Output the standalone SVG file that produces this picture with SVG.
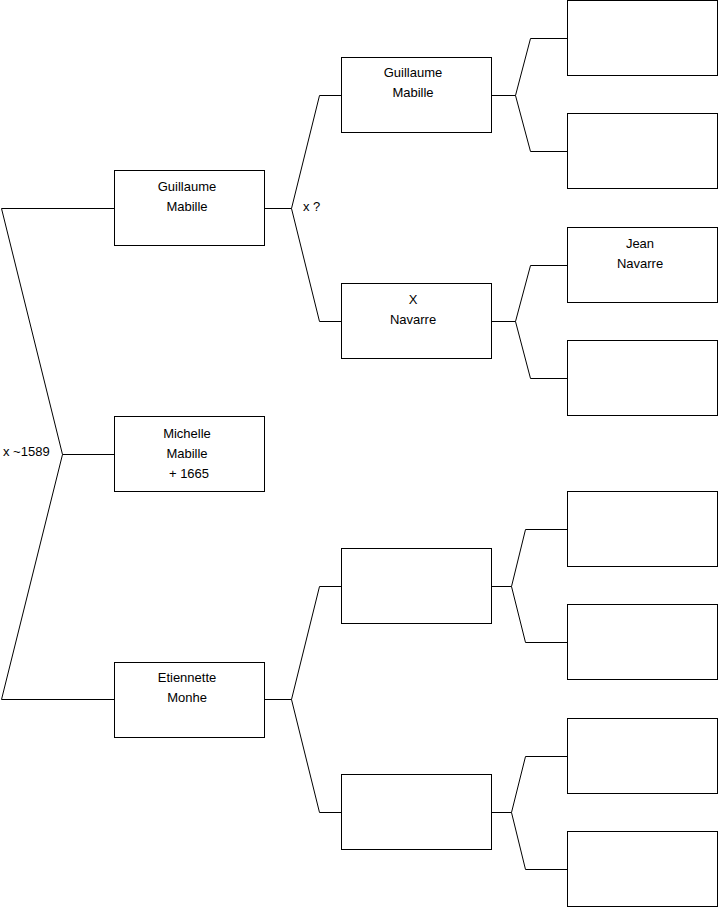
<svg xmlns="http://www.w3.org/2000/svg" width="719" height="908" viewBox="0 0 719 908">
<style>
.box{fill:#fff;stroke:#000;stroke-width:1}
.ln{fill:none;stroke:#000;stroke-width:1}
text{font-family:"Liberation Sans",Arial,sans-serif;font-size:13px;fill:#000}
.c{text-anchor:middle}
</style>
<rect width="719" height="908" fill="#fff"/>
<g id="connectors">
<polyline class="ln" points="114,208.5 1.5,208.5 62.5,454.5 1.5,699.5 114,699.5"/>
<line class="ln" x1="62.5" y1="454.5" x2="114" y2="454.5"/>
<polyline class="ln" points="341,95.5 319.5,95.5 291.5,208.5 319.5,321.5 341,321.5"/>
<line class="ln" x1="265" y1="208.5" x2="291.5" y2="208.5"/>
<polyline class="ln" points="341,586.5 319.5,586.5 291.5,699.5 319.5,812.5 341,812.5"/>
<line class="ln" x1="265" y1="699.5" x2="291.5" y2="699.5"/>
<polyline class="ln" points="567,38.5 530.5,38.5 515.5,95.5 530.5,151.5 567,151.5"/>
<line class="ln" x1="492" y1="95.5" x2="515.5" y2="95.5"/>
<polyline class="ln" points="567,265.5 530.5,265.5 515.5,321.5 530.5,378.5 567,378.5"/>
<line class="ln" x1="492" y1="321.5" x2="515.5" y2="321.5"/>
<polyline class="ln" points="567,529.5 525.5,529.5 511.5,586.5 525.5,642.5 567,642.5"/>
<line class="ln" x1="492" y1="586.5" x2="511.5" y2="586.5"/>
<polyline class="ln" points="567,756.5 525.5,756.5 511.5,812.5 525.5,869.5 567,869.5"/>
<line class="ln" x1="492" y1="812.5" x2="511.5" y2="812.5"/>
<text x="3" y="456">x ~1589</text>
<text x="303" y="211">x ?</text>
</g>
<g id="n-guillaume1"><rect class="box" x="114.5" y="170.5" width="150" height="75"/><text class="c" x="187" y="191">Guillaume</text><text class="c" x="187" y="211">Mabille</text></g>
<g id="n-michelle"><rect class="box" x="114.5" y="416.5" width="150" height="75"/><text class="c" x="187" y="438">Michelle</text><text class="c" x="187" y="458">Mabille</text><text class="c" x="189" y="478">+ 1665</text></g>
<g id="n-etiennette"><rect class="box" x="114.5" y="662.5" width="150" height="75"/><text class="c" x="187" y="682">Etiennette</text><text class="c" x="187" y="702">Monhe</text></g>
<g id="n-guillaume2"><rect class="box" x="341.5" y="57.5" width="150" height="75"/><text class="c" x="413" y="77">Guillaume</text><text class="c" x="413" y="97">Mabille</text></g>
<g id="n-xnavarre"><rect class="box" x="341.5" y="283.5" width="150" height="75"/><text class="c" x="413" y="304">X</text><text class="c" x="413" y="324">Navarre</text></g>
<g id="n-l2c"><rect class="box" x="341.5" y="548.5" width="150" height="75"/></g>
<g id="n-l2d"><rect class="box" x="341.5" y="774.5" width="150" height="75"/></g>
<g id="n-l3a"><rect class="box" x="567.5" y="0.5" width="150" height="75"/></g>
<g id="n-l3b"><rect class="box" x="567.5" y="113.5" width="150" height="75"/></g>
<g id="n-jean"><rect class="box" x="567.5" y="227.5" width="150" height="75"/><text class="c" x="640" y="248">Jean</text><text class="c" x="640" y="268">Navarre</text></g>
<g id="n-l3d"><rect class="box" x="567.5" y="340.5" width="150" height="75"/></g>
<g id="n-l3e"><rect class="box" x="567.5" y="491.5" width="150" height="75"/></g>
<g id="n-l3f"><rect class="box" x="567.5" y="604.5" width="150" height="75"/></g>
<g id="n-l3g"><rect class="box" x="567.5" y="718.5" width="150" height="75"/></g>
<g id="n-l3h"><rect class="box" x="567.5" y="831.5" width="150" height="75"/></g>
</svg>
